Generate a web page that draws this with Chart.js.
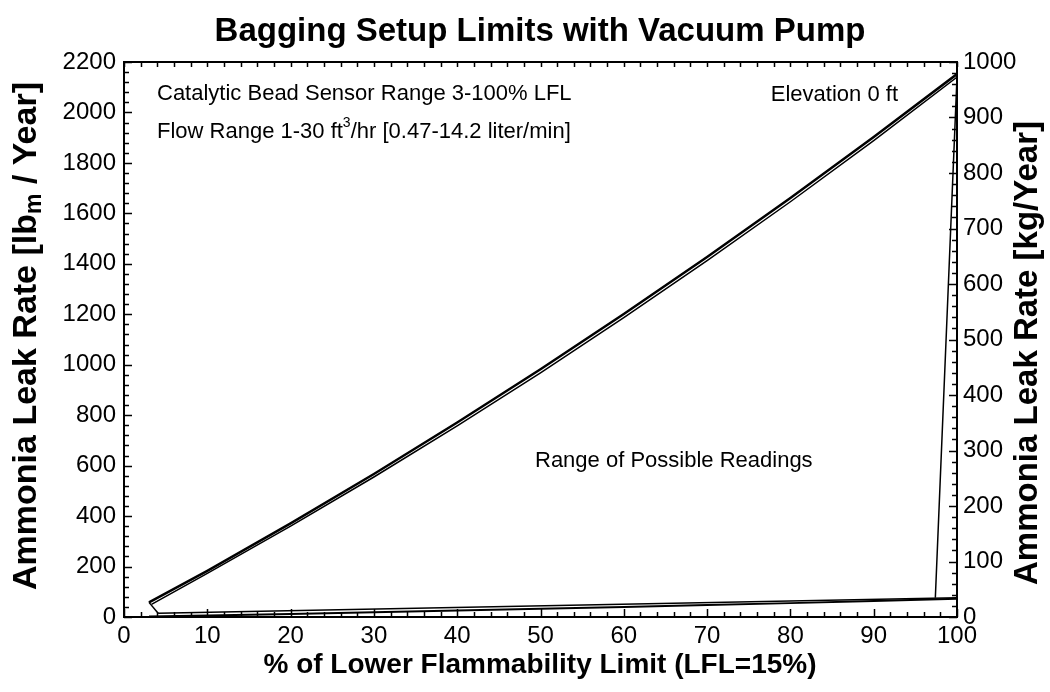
<!DOCTYPE html>
<html><head><meta charset="utf-8">
<script src="https://cdn.jsdelivr.net/npm/chart.js@4.4.0/dist/chart.umd.min.js"></script>
<style>html,body{margin:0;padding:0;background:#fff;}</style>
</head><body>
<canvas id="c" width="1050" height="692" style="width:1050px;height:692px;display:block"></canvas>
<script>
// % LFL sample points
const lflUpperA = [3, 10, 20, 30, 40, 50, 60, 70, 80, 90, 100];
const leakUpperA = [58, 183, 371, 567, 771, 982, 1201, 1427, 1661, 1903, 2152];
const lflUpperB = [3.3, 10, 20, 30, 40, 50, 60, 70, 80, 90, 100, 97.4];
const leakUpperB = [50, 173, 360, 555, 758, 968, 1187, 1413, 1646, 1888, 2140, 76];
const lflLeftEdge = [3, 4.1];
const leakLeftEdge = [58, 15];
const lflLowerA = [3, 10, 20, 30, 40, 50, 60, 70, 80, 90, 100];
const leakLowerA = [2, 6, 12, 19, 26, 33, 40, 48, 55, 63, 72];
const lflLowerB = [4.1, 100];
const leakLowerB = [15, 76];
const xTicks = [0, 10, 20, 30, 40, 50, 60, 70, 80, 90, 100];
const yLeftTicks = [0, 200, 400, 600, 800, 1000, 1200, 1400, 1600, 1800, 2000, 2200];
const yRightTicks = [0, 100, 200, 300, 400, 500, 600, 700, 800, 900, 1000];

const FONT = "'Liberation Sans', Arial, sans-serif";
function pts(xs, ys) { return xs.map((x, i) => ({x: x, y: ys[i]})); }
function ds(xs, ys, w) {
  return {data: pts(xs, ys), borderColor: '#000', borderWidth: w, pointRadius: 0, showLine: true, fill: false, tension: 0};
}

function drawRich(ctx, parts, cx, cy, rot) {
  ctx.save();
  ctx.translate(cx, cy);
  if (rot) ctx.rotate(rot);
  let w = 0;
  parts.forEach(p => { ctx.font = p.f; w += ctx.measureText(p.t).width; });
  let x = -w / 2;
  ctx.textBaseline = 'middle';
  ctx.textAlign = 'left';
  ctx.fillStyle = '#000';
  parts.forEach(p => { ctx.font = p.f; ctx.fillText(p.t, x, p.dy || 0); x += ctx.measureText(p.t).width; });
  ctx.restore();
}

const decor = {
  id: 'decor',
  afterDatasetsDraw(chart) {
    const ctx = chart.ctx, a = chart.chartArea;
    const sx = chart.scales.x, sy = chart.scales.y, sy2 = chart.scales.y2;
    ctx.save();
    ctx.strokeStyle = '#000';
    ctx.lineWidth = 1.5;
    ctx.beginPath();
    for (let v = 0; v <= 100; v += 2) {
      const p = Math.round(sx.getPixelForValue(v)) + 0.5;
      const L = v % 10 === 0 ? 8 : 5;
      ctx.moveTo(p, a.bottom); ctx.lineTo(p, a.bottom - L);
      ctx.moveTo(p, a.top); ctx.lineTo(p, a.top + 5);
    }
    for (let v = 0; v <= 2200; v += 40) {
      const p = Math.round(sy.getPixelForValue(v)) + 0.5;
      const L = v % 200 === 0 ? 8 : 5;
      ctx.moveTo(a.left, p); ctx.lineTo(a.left + L, p);
    }
    for (let v = 0; v <= 1000; v += 20) {
      const p = Math.round(sy2.getPixelForValue(v)) + 0.5;
      const L = v % 100 === 0 ? 8 : 5;
      ctx.moveTo(a.right, p); ctx.lineTo(a.right - L, p);
    }
    ctx.stroke();
    ctx.lineWidth = 2;
    ctx.strokeRect(a.left, a.top, a.right - a.left, a.bottom - a.top);
    ctx.restore();

    const bT = 'bold 33px ' + FONT, bX = 'bold 28px ' + FONT, bY = 'bold 33px ' + FONT,
          bYL = 'bold 34px ' + FONT, bSub = 'bold 23px ' + FONT;
    const r22 = '22px ' + FONT, r14 = '14px ' + FONT;
    drawRich(ctx, [{t: 'Bagging Setup Limits with Vacuum Pump', f: bT}], 540, 32);
    drawRich(ctx, [{t: '% of Lower Flammability Limit (LFL=15%)', f: bX}], 540, 665);
    drawRich(ctx, [{t: 'Ammonia Leak Rate [lb', f: bYL}, {t: 'm', f: bSub, dy: 8}, {t: ' / Year]', f: bYL}], 27, 336, -Math.PI / 2);
    drawRich(ctx, [{t: 'Ammonia Leak Rate [kg/Year]', f: bY}], 1028, 353, -Math.PI / 2);

    ctx.save();
    ctx.fillStyle = '#000';
    ctx.textBaseline = 'middle';
    ctx.textAlign = 'left';
    ctx.font = r22;
    ctx.fillText('Catalytic Bead Sensor Range 3-100% LFL', 157, 94);
    let x = 157;
    ctx.fillText('Flow Range 1-30 ft', x, 132); x += ctx.measureText('Flow Range 1-30 ft').width;
    ctx.font = r14; ctx.fillText('3', x, 123); x += ctx.measureText('3').width;
    ctx.font = r22; ctx.fillText('/hr [0.47-14.2 liter/min]', x, 132);
    ctx.fillText('Range of Possible Readings', 535, 461);
    ctx.textAlign = 'right';
    ctx.fillText('Elevation 0 ft', 898, 95);
    ctx.restore();
  }
};

const plainTick = v => String(v);

new Chart(document.getElementById('c'), {
  type: 'scatter',
  data: {datasets: [
    ds(lflUpperA, leakUpperA, 2.5),
    ds(lflUpperB, leakUpperB, 1.5),
    ds(lflLeftEdge, leakLeftEdge, 1.5),
    ds(lflLowerA, leakLowerA, 2),
    ds(lflLowerB, leakLowerB, 1.5)
  ]},
  options: {
    responsive: false, animation: false, devicePixelRatio: 1,
    layout: {padding: {top: 62, left: 0, right: 0, bottom: 0}},
    plugins: {legend: {display: false}, tooltip: {enabled: false}, title: {display: false}},
    scales: {
      x: {type: 'linear', position: 'bottom', min: 0, max: 100,
        grid: {display: false, drawTicks: false}, border: {display: false},
        afterBuildTicks: s => { s.ticks = xTicks.map(v => ({value: v})); },
        afterFit: s => { s.height = 75; },
        ticks: {color: '#000', font: {family: FONT, size: 24}, padding: 5, maxRotation: 0, autoSkip: false, callback: plainTick}},
      y: {type: 'linear', position: 'left', min: 0, max: 2200,
        grid: {display: false, drawTicks: false}, border: {display: false},
        afterBuildTicks: s => { s.ticks = yLeftTicks.map(v => ({value: v})); },
        afterFit: s => { s.width = 124; },
        ticks: {color: '#000', font: {family: FONT, size: 24}, padding: 8, autoSkip: false, callback: plainTick}},
      y2: {type: 'linear', position: 'right', min: 0, max: 1000,
        grid: {display: false, drawTicks: false}, border: {display: false},
        afterBuildTicks: s => { s.ticks = yRightTicks.map(v => ({value: v})); },
        afterFit: s => { s.width = 93; },
        ticks: {color: '#000', font: {family: FONT, size: 24}, padding: 6, autoSkip: false, callback: plainTick}}
    }
  },
  plugins: [decor]
});
</script>
</body></html>
